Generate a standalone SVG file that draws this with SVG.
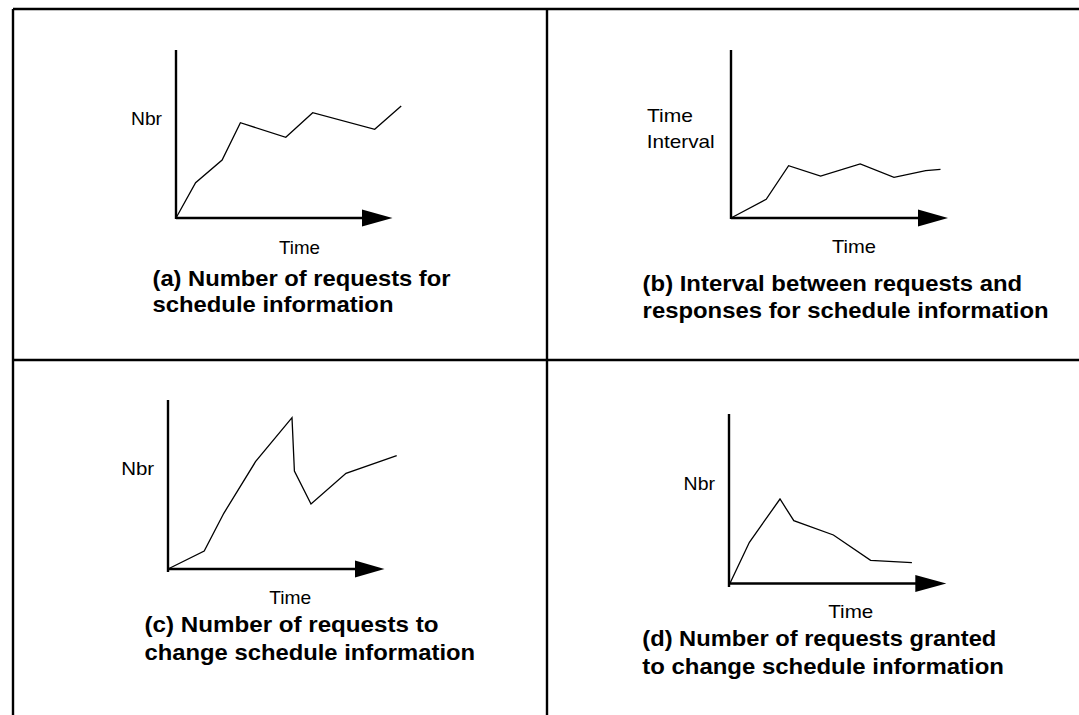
<svg xmlns="http://www.w3.org/2000/svg" width="1079" height="715" viewBox="0 0 1079 715">
  <style>
    .frame { stroke: #000; stroke-width: 2.4; fill: none; }
    .axis { stroke: #000; stroke-width: 2.4; fill: none; }
    .data { stroke: #000; stroke-width: 1.3; fill: none; stroke-linejoin: miter; }
    .head { fill: #000; }
    .lbl { font-family: "Liberation Sans", Arial, sans-serif; font-size: 19px; fill: #000; }
    .cap { font-family: "Liberation Sans", Arial, sans-serif; font-size: 22px; font-weight: bold; fill: #000; }
  </style>
  <rect width="1079" height="715" fill="#fff"/>

  <!-- panel grid -->
  <g id="frame">
    <line class="frame" x1="13" y1="9" x2="1079" y2="9"/>
    <line class="frame" x1="13" y1="9" x2="13" y2="715"/>
    <line class="frame" x1="547" y1="9" x2="547" y2="715"/>
    <line class="frame" x1="13" y1="360" x2="1079" y2="360"/>
  </g>

  <!-- (a) requests for schedule information -->
  <g id="panel-a">
    <line class="axis" x1="176" y1="50" x2="176" y2="219"/>
    <line class="axis" x1="176" y1="218" x2="364" y2="218"/>
    <polygon class="head" points="362,209.5 392.5,218 362,226.5"/>
    <polyline class="data" points="176,218 195.6,182.7 222.1,160 240.4,122.7 285.8,137.3 312.7,112.7 374.7,129.3 401.2,106"/>
    <text class="lbl" x="131" y="125" textLength="31" lengthAdjust="spacingAndGlyphs">Nbr</text>
    <text class="lbl" x="279" y="254" textLength="41" lengthAdjust="spacingAndGlyphs">Time</text>
    <text class="cap" x="152.5" y="286" textLength="298" lengthAdjust="spacingAndGlyphs">(a) Number of requests for</text>
    <text class="cap" x="152.5" y="312" textLength="241" lengthAdjust="spacingAndGlyphs">schedule information</text>
  </g>

  <!-- (b) request/response interval -->
  <g id="panel-b">
    <line class="axis" x1="731" y1="50" x2="731" y2="219"/>
    <line class="axis" x1="731" y1="218" x2="920" y2="218"/>
    <polygon class="head" points="918,209.5 948,218 918,226.5"/>
    <polyline class="data" points="731,218 766.2,199.3 788.6,165.7 820.6,176 860.2,164 894,177.3 925.7,170.7 940.5,169.3"/>
    <text class="lbl" x="647" y="122" textLength="46" lengthAdjust="spacingAndGlyphs">Time</text>
    <text class="lbl" x="646.7" y="148" textLength="68" lengthAdjust="spacingAndGlyphs">Interval</text>
    <text class="lbl" x="832" y="253" textLength="44" lengthAdjust="spacingAndGlyphs">Time</text>
    <text class="cap" x="642.6" y="291" textLength="379.5" lengthAdjust="spacingAndGlyphs">(b) Interval between requests and</text>
    <text class="cap" x="642.6" y="318" textLength="406" lengthAdjust="spacingAndGlyphs">responses for schedule information</text>
  </g>

  <!-- (c) requests to change schedule information -->
  <g id="panel-c">
    <line class="axis" x1="168" y1="400" x2="168" y2="572"/>
    <line class="axis" x1="168" y1="569" x2="357" y2="569"/>
    <polygon class="head" points="355,560.5 384.5,569 355,577.5"/>
    <polyline class="data" points="168,569 204.2,551 223.8,513.3 255.5,461.7 292,417.7 294.4,471 311,504 346,473.3 396.7,455.7"/>
    <text class="lbl" x="121.2" y="475" textLength="33" lengthAdjust="spacingAndGlyphs">Nbr</text>
    <text class="lbl" x="269.3" y="604" textLength="42" lengthAdjust="spacingAndGlyphs">Time</text>
    <text class="cap" x="144.5" y="632" textLength="294" lengthAdjust="spacingAndGlyphs">(c) Number of requests to</text>
    <text class="cap" x="144.5" y="660" textLength="330.6" lengthAdjust="spacingAndGlyphs">change schedule information</text>
  </g>

  <!-- (d) granted change requests -->
  <g id="panel-d">
    <line class="axis" x1="729" y1="414" x2="729" y2="587"/>
    <line class="axis" x1="729" y1="583.5" x2="917" y2="583.5"/>
    <polygon class="head" points="915.3,575 946.3,583.5 915.3,592"/>
    <polyline class="data" points="730,583.3 749.4,542.3 780,499 793.8,520.7 833.4,535 870.6,560.3 911.9,562.7"/>
    <text class="lbl" x="683.6" y="490" textLength="31.4" lengthAdjust="spacingAndGlyphs">Nbr</text>
    <text class="lbl" x="828.3" y="618" textLength="45" lengthAdjust="spacingAndGlyphs">Time</text>
    <text class="cap" x="642.3" y="646" textLength="354" lengthAdjust="spacingAndGlyphs">(d) Number of requests granted</text>
    <text class="cap" x="642.3" y="674" textLength="361.6" lengthAdjust="spacingAndGlyphs">to change schedule information</text>
  </g>
</svg>
